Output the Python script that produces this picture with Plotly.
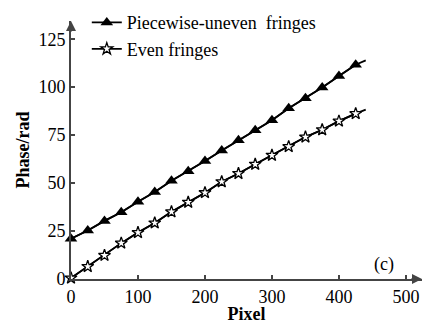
import plotly.graph_objects as go

pixel = [0, 25, 50, 75, 100, 125, 150, 175, 200, 225, 250, 275, 300, 325, 350, 375, 400, 425]
uneven = [21, 25.3, 30.3, 34.8, 40.3, 45.3, 51.2, 56.2, 61.5, 67, 72.3, 77.5, 82.8, 89, 94.2, 99.8, 105.8, 111.7]
even = [0.5, 6.5, 12.3, 18.7, 24.2, 29.2, 35, 40, 45, 50.7, 55, 59.8, 64.5, 69, 74, 77.8, 82.3, 86.2]
line_end_x = 440
uneven_end = 114
even_end = 88.3

serif = "Liberation Serif, Times New Roman, serif"
axis_col = "#444444"

fig = go.Figure()
fig.add_trace(go.Scatter(x=pixel + [line_end_x], y=uneven + [uneven_end], mode="lines",
                         line=dict(color="black", width=1.8), showlegend=False, hoverinfo="skip"))
fig.add_trace(go.Scatter(x=pixel + [line_end_x], y=even + [even_end], mode="lines",
                         line=dict(color="black", width=1.8), showlegend=False, hoverinfo="skip"))
fig.add_trace(go.Scatter(x=pixel, y=uneven, mode="lines+markers", name="Piecewise-uneven  fringes",
                         line=dict(color="black", width=1.8), cliponaxis=False,
                         marker=dict(symbol="triangle-up", size=11, color="black")))
fig.add_trace(go.Scatter(x=pixel, y=even, mode="lines+markers", name="Even fringes",
                         line=dict(color="black", width=1.8), cliponaxis=False,
                         marker=dict(symbol="star", size=9, color="white",
                                     line=dict(color="black", width=1.3))))

fig.update_layout(
    width=426, height=324,
    margin=dict(l=71, r=4, t=10, b=45),
    paper_bgcolor="white", plot_bgcolor="white",
    font=dict(family=serif, size=15, color="black"),
    showlegend=True,
    legend=dict(x=0.045, y=1.065, xanchor="left", yanchor="top", bgcolor="rgba(0,0,0,0)",
                font=dict(family=serif, size=18, color="black"), tracegroupgap=0,
                itemwidth=30),
    xaxis=dict(range=[0, 524], tickvals=[0, 100, 200, 300, 400, 500], automargin=False,
               showline=True, linecolor=axis_col, linewidth=2, showgrid=False, zeroline=False,
               ticks="inside", ticklen=4, tickcolor=axis_col, tickwidth=1.5,
               tickfont=dict(family=serif, size=18),
               title=dict(text="<b>Pixel</b>", font=dict(family=serif, size=18), standoff=0)),
    yaxis=dict(range=[0, 134.5], tickvals=[0, 25, 50, 75, 100, 125], automargin=False,
               showline=True, linecolor=axis_col, linewidth=2, showgrid=False, zeroline=False,
               ticks="inside", ticklen=4, tickcolor=axis_col, tickwidth=1.5,
               tickfont=dict(family=serif, size=18),
               title=dict(text="<b>Phase/rad</b>", font=dict(family=serif, size=18), standoff=4)),
)

# axis arrowheads
fig.add_annotation(x=1, y=0, xref="paper", yref="paper", ax=-12, ay=0, text="",
                   showarrow=True, arrowhead=2, arrowsize=1, arrowwidth=2, arrowcolor=axis_col)
fig.add_annotation(x=0, y=1, xref="paper", yref="paper", ax=0, ay=12, text="",
                   showarrow=True, arrowhead=2, arrowsize=1, arrowwidth=2, arrowcolor=axis_col)
fig.add_annotation(x=468, y=7.5, xref="x", yref="y", text="(c)", showarrow=False,
                   font=dict(family=serif, size=18, color="black"))

fig.write_html("out.html", config={"displayModeBar": False},
               post_script="document.body.style.margin='0';document.body.style.overflow='hidden';")
